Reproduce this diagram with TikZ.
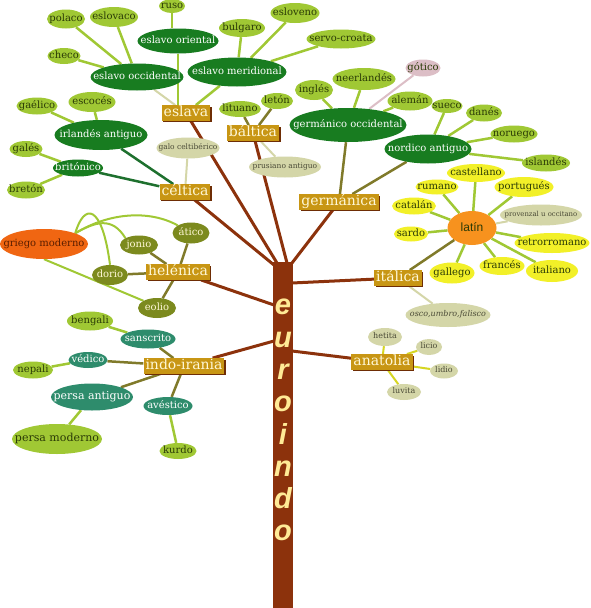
\documentclass[tikz,border=0pt]{standalone}
\usepackage{fontspec}
\setmainfont{DejaVu Serif}
\newfontfamily\sansfont{Liberation Sans}
\usetikzlibrary{shapes.geometric,shadows,backgrounds}

\definecolor{marron}{RGB}{140,50,12}
\definecolor{dorado}{RGB}{200,150,20}
\definecolor{sombra}{RGB}{110,45,5}
\definecolor{crema}{RGB}{255,248,215}
\definecolor{letras}{RGB}{255,234,150}
\definecolor{vosc}{RGB}{24,124,32}
\definecolor{vcla}{RGB}{160,200,52}
\definecolor{tverde}{RGB}{42,58,6}
\definecolor{tgris}{RGB}{75,75,55}
\definecolor{beis}{RGB}{212,214,168}
\definecolor{amarillo}{RGB}{242,240,40}
\definecolor{naranja}{RGB}{247,146,30}
\definecolor{rojizo}{RGB}{240,102,18}
\definecolor{olivo}{RGB}{124,138,30}
\definecolor{turquesa}{RGB}{46,140,108}
\definecolor{rosa}{RGB}{220,190,198}
\definecolor{lineaol}{RGB}{128,122,42}
\definecolor{lineavo}{RGB}{30,112,46}
\definecolor{lineaam}{RGB}{214,214,34}

\begin{document}
\begin{tikzpicture}[x=1pt,y=-1pt,
    every node/.style={font=\fontsize{10}{12}\selectfont},
    etiq/.style={rectangle,fill=dorado,text=crema,inner xsep=2pt,inner ysep=1pt,
      text height=10.5pt,text depth=3pt,font=\fontsize{14}{16}\selectfont,
      drop shadow={shadow xshift=1.5pt,shadow yshift=-1.5pt,fill=sombra,opacity=1}},
    elip/.style={ellipse,inner sep=0pt,text height=7pt,text depth=2pt,
      execute at begin node={\hbox to 0pt\bgroup\hss},
      execute at end node={\hss\egroup}},
    sz/.style 2 args={minimum width=#1,minimum height=#2},
    oscuro/.style={elip,fill=vosc,text=white},
    hoja/.style={elip,fill=vcla,text=tverde},
    claro/.style={elip,fill=beis,text=tgris,text height=5pt,text depth=1.5pt,
      font=\fontsize{7.5}{9}\selectfont},
    amar/.style={elip,fill=amarillo,text=tverde},
    oliv/.style={elip,fill=olivo,text=crema},
    turq/.style={elip,fill=turquesa,text=white},
    letra/.style={text=letras,text height=15pt,text depth=0pt,inner sep=0pt,
      font=\sansfont\bfseries\itshape\fontsize{29}{31}\selectfont},
    rama/.style={draw=marron,line width=3pt},
    lverde/.style={draw=vcla,line width=2.5pt},
    loscuro/.style={draw=lineavo,line width=2.5pt},
    lolivo/.style={draw=lineaol,line width=2.5pt},
    lbeis/.style={draw=beis,line width=2pt},
    lama/.style={draw=lineaam,line width=2pt},
    lrosa/.style={draw=rosa,line width=2pt}]
  \useasboundingbox (0,0) rectangle (591,608);

  % tronco
  \node[rectangle,fill=marron,inner sep=0pt,minimum width=20,minimum height=346] (tronco) at (283,435) {};
  \foreach \c [count=\k] in {e,u,r,o,i,n,d,o}
    \node[letra] (l\k) at (283,275+32.3*\k) {\c};
  \coordinate (tesl) at (277,263);
  \coordinate (tcel) at (274,265);
  \coordinate (tbal) at (287,263);
  \coordinate (tger) at (292,263);
  \coordinate (thel) at (274,305);
  \coordinate (tind) at (274,341);
  \coordinate (tita) at (292,283);
  \coordinate (tana) at (292,351);

  % ramas
  \node[etiq] (esl) at (186,113) {eslava};
  \node[etiq] (bal) at (253,133) {báltica};
  \node[etiq] (cel) at (185,192) {céltica};
  \node[etiq] (ger) at (339,202) {germánica};
  \node[etiq] (hel) at (178,272) {helénica};
  \node[etiq] (ita) at (398,278) {itálica};
  \node[etiq] (ind) at (184,366) {indo-irania};
  \node[etiq] (ana) at (382,362) {anatolia};

  % eslava
  \node[oscuro,sz={81}{25}] (eor) at (178,41) {eslavo oriental};
  \node[oscuro,sz={93}{27}] (eoc) at (137,77) {eslavo occidental};
  \node[oscuro,sz={99}{29}] (eme) at (237,72) {eslavo meridional};
  \node[hoja,sz={26}{14}] (rus) at (172,6)  {ruso};
  \node[hoja,sz={38}{19}] (pol) at (66,19)  {polaco};
  \node[hoja,sz={48}{20}] (esk) at (114,17) {eslovaco};
  \node[hoja,sz={33}{16}] (che) at (64,56)  {checo};
  \node[hoja,sz={46}{18}] (bul) at (242,28) {bulgaro};
  \node[hoja,sz={49}{20}] (esv) at (295,13) {esloveno};
  \node[hoja,sz={69}{19}] (ser) at (341,39) {servo-croata};

  % báltica
  \node[hoja,sz={42}{16}] (lit) at (240,109) {lituano};
  \node[hoja,sz={32}{16}] (let) at (277,101) {letón};
  \node[claro,sz={72}{21}] (pru) at (285,167) {prusiano antiguo};

  % céltica
  \node[oscuro,sz={93}{30}] (irl) at (101,135) {irlandés antiguo};
  \node[oscuro,sz={50}{17}] (bri) at (78,168)  {britónico};
  \node[hoja,sz={41}{17}] (gae) at (37,106) {gaélico};
  \node[hoja,sz={47}{20}] (esc) at (92,102) {escocés};
  \node[hoja,sz={33}{16}] (gal) at (26,149) {galés};
  \node[hoja,sz={38}{17}] (bre) at (26,190) {bretón};
  \node[claro,sz={63}{21}] (gcb) at (188,148) {galo celtibérico};

  % germánica
  \node[oscuro,sz={117}{34}] (goc) at (348,125) {germánico occidental};
  \node[oscuro,sz={87}{29}]  (nrd) at (428,149) {nordico antiguo};
  \node[hoja,sz={38}{20}] (ing) at (314,90)  {inglés};
  \node[hoja,sz={63}{22}] (nee) at (364,79)  {neerlandés};
  \node[elip,fill=rosa,text=tverde,sz={35}{17}] (got) at (423,68) {gótico};
  \node[hoja,sz={45}{19}] (ale) at (410,101) {alemán};
  \node[hoja,sz={31}{14}] (sue) at (447,106) {sueco};
  \node[hoja,sz={36}{17}] (dan) at (484,113) {danés};
  \node[hoja,sz={47}{17}] (nor) at (514,134) {noruego};
  \node[hoja,sz={48}{17}] (isl) at (546,163) {islandés};

  % itálica
  \node[elip,fill=naranja,text=tverde,sz={49}{34},text height=8.5pt,
    font=\sansfont\fontsize{12}{14}\selectfont] (lat) at (472,228) {latín};
  \node[amar,sz={58}{18}] (cas) at (476,173) {castellano};
  \node[amar,sz={43}{15}] (rum) at (437,187) {rumano};
  \node[amar,sz={59}{20}] (por) at (524,187) {portugués};
  \node[amar,sz={44}{17}] (cat) at (414,206) {catalán};
  \node[amar,sz={34}{15}] (sar) at (411,234) {sardo};
  \node[amar,sz={75}{20}] (ret) at (552,243) {retrorromano};
  \node[amar,sz={45}{21}] (gll) at (452,273) {gallego};
  \node[amar,sz={45}{18}] (fra) at (502,266) {francés};
  \node[amar,sz={52}{22}] (itl) at (552,271) {italiano};
  \node[claro,sz={82}{21},font=\fontsize{6.9}{8}\selectfont] (pro) at (541,215) {provenzal u occitano};
  \node[claro,sz={85}{24},font=\itshape\fontsize{8}{10}\selectfont] (osc) at (448,315) {osco,umbro,falisco};

  % helénica
  \node[oliv,sz={38}{19}] (jon) at (139,245) {jonio};
  \node[oliv,sz={37}{21}] (ati) at (191,233) {ático};
  \node[oliv,sz={36}{20}] (dor) at (110,275) {dorio};
  \node[oliv,sz={38}{20}] (eol) at (157,308) {eolio};
  \node[elip,fill=rojizo,text={rgb,255:red,90;green,30;blue,0},sz={88}{30}] (gri) at (44,244) {griego moderno};

  % indo-irania
  \node[turq,sz={55}{19}] (san) at (148,339) {sanscrito};
  \node[turq,sz={39}{16}] (ved) at (88,360)  {védico};
  \node[turq,sz={82}{27},font=\fontsize{11}{13}\selectfont] (pan) at (92,397) {persa antiguo};
  \node[turq,sz={49}{18}] (ave) at (168,406) {avéstico};
  \node[hoja,sz={46}{19}] (ben) at (90,321)  {bengali};
  \node[hoja,sz={40}{17}] (nep) at (33,370)  {nepali};
  \node[hoja,sz={90}{30},font=\fontsize{11}{13}\selectfont] (pmo) at (57,439) {persa moderno};
  \node[hoja,sz={37}{16}] (kur) at (178,451) {kurdo};

  % anatolia
  \node[claro,sz={34}{18},font=\fontsize{8}{10}\selectfont] (het) at (385,337) {hetita};
  \node[claro,sz={26}{16},font=\fontsize{8}{10}\selectfont] (lic) at (429,347) {licio};
  \node[claro,sz={28}{15},font=\fontsize{8}{10}\selectfont] (lid) at (444,371) {lidio};
  \node[claro,sz={34}{16},font=\fontsize{8}{10}\selectfont] (luv) at (404,392) {luvita};

  \begin{scope}[on background layer]
    \fill[white] (0,0) rectangle (591,608);
    \draw[rama] (esl) -- (tesl);
    \draw[rama] (bal) -- (tbal);
    \draw[rama] (cel) -- (tcel);
    \draw[rama] (ger) -- (tger);
    \draw[rama] (hel) -- (thel);
    \draw[rama] (ind) -- (tind);
    \draw[rama] (ita) -- (tita);
    \draw[rama] (ana) -- (tana);
    % eslava
    \draw[lverde] (eor) -- (eor |- esl.north);
    \draw[lverde] (eme) -- (esl);
    \draw[lbeis]  (eoc) -- (esl);
    \draw[lverde] (rus) -- (rus |- eor.north);
    \foreach \n in {pol,esk,che} \draw[lverde] (\n) -- (eoc);
    \foreach \n in {bul,esv,ser} \draw[lverde] (\n) -- (eme);
    % báltica
    \draw[lolivo] (lit) -- (bal);
    \draw[lolivo] (let) -- (bal);
    \draw[lbeis]  (pru) -- (bal);
    % céltica
    \draw[loscuro] (irl) -- (cel);
    \draw[loscuro] (bri) -- (cel);
    \draw[lbeis]   (gcb) -- (cel);
    \draw[lverde] (gae) -- (irl);
    \draw[lverde] (esc) -- (irl);
    \draw[lverde] (gal) -- (bri);
    \draw[lverde] (bre) -- (bri);
    % germánica
    \draw[lolivo] (goc) -- (ger);
    \draw[lolivo] (nrd) -- (ger);
    \foreach \n in {ing,nee,ale} \draw[lverde] (\n) -- (goc);
    \draw[lrosa] (got) -- (goc);
    \foreach \n in {sue,dan,nor,isl} \draw[lverde] (\n) -- (nrd);
    % itálica
    \draw[lolivo] (lat) -- (ita);
    \draw[lbeis]  (osc) -- (ita);
    \foreach \n in {cas,rum,por,cat,sar,ret,gll,fra,itl} \draw[lverde] (lat) -- (\n);
    \draw[lbeis] (lat) -- (pro);
    % helénica
    \foreach \n in {jon,ati,dor,eol} \draw[lolivo] (\n) -- (hel);
    \draw[lverde,line width=2pt] (gri.north east) .. controls (84,203) and (102,203) .. (dor.north);
    \draw[lverde,line width=2pt] (gri.north east) .. controls (95,222) and (112,216) .. (jon.north west);
    \draw[lverde,line width=2pt] (gri.north east) .. controls (110,212) and (150,210) .. (ati.north west);
    \draw[lverde,line width=2pt] (gri.south) -- (eol.north west);
    % indo-irania
    \foreach \n in {san,ved,pan,ave} \draw[lolivo] (\n) -- (ind);
    \draw[lverde] (ben) -- (san);
    \draw[lverde] (nep) -- (ved);
    \draw[lverde] (pmo) -- (pan);
    \draw[lverde] (kur) -- (ave);
    % anatolia
    \foreach \n in {het,lic,lid,luv} \draw[lama] (\n) -- (ana);
  \end{scope}
\end{tikzpicture}
\end{document}
